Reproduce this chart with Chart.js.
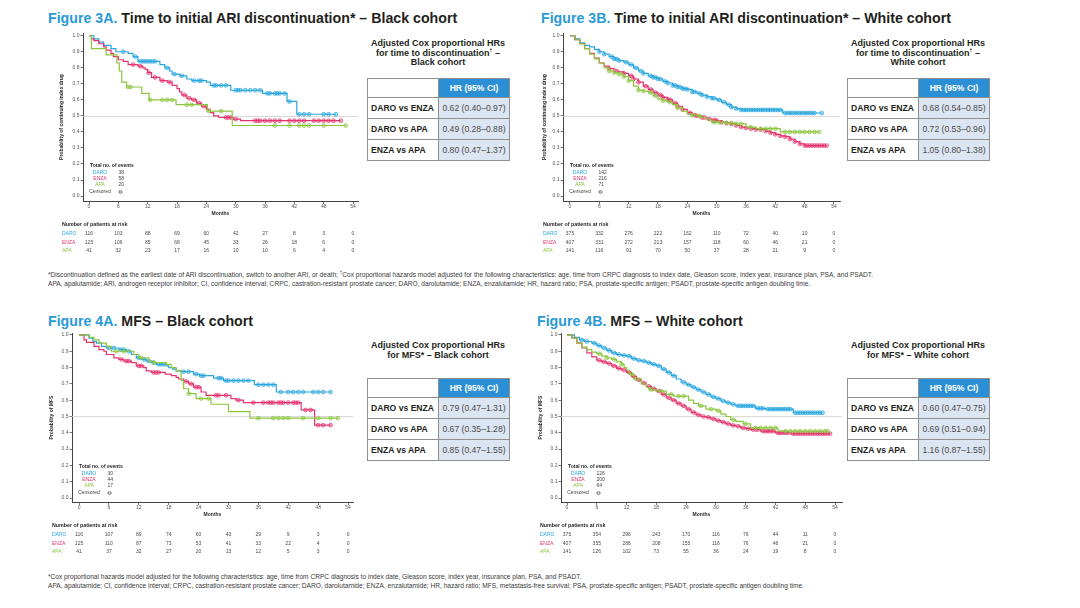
<!DOCTYPE html>
<html><head><meta charset="utf-8">
<script src="https://cdn.jsdelivr.net/npm/chart.js@4.4.1/dist/chart.umd.min.js"></script>
<style>
html,body{margin:0;padding:0;background:#fff;}
body{width:1080px;height:608px;position:relative;overflow:hidden;font-family:"Liberation Sans",Arial,Helvetica,sans-serif;color:#231f20;}
.t{position:absolute;white-space:nowrap;}
.ftitle{font-size:14.2px;font-weight:bold;line-height:14.4px;}
.ftitle span{color:#2a9ad7;}
.htitle{font-size:9px;font-weight:bold;text-align:center;line-height:9.6px;width:200px;}
.foot{font-size:6.6px;color:#3a3a3a;line-height:9.3px;}
canvas{position:absolute;}
.cell{position:absolute;box-sizing:border-box;border:1px solid #8f8f8f;display:flex;align-items:center;font-size:8.6px;}
.lab{font-weight:bold;padding-left:3px;background:#fff;color:#231f20;}
.val{justify-content:center;background:#dce6f2;color:#4a4a4a;}
.hdr{justify-content:center;background:#2b8fd5;color:#fff;font-weight:bold;}
</style></head>
<body>
<script>
// ---------- shared axis values ----------
const xTickMonths = [0, 6, 12, 18, 24, 30, 36, 42, 48, 54];
const yTickValues = [0, 0.1, 0.2, 0.3, 0.4, 0.5, 0.6, 0.7, 0.8, 0.9, 1.0];
const armNames = ['DARO', 'ENZA', 'APA'];
const hrComparisons = ['DARO vs ENZA', 'DARO vs APA', 'ENZA vs APA'];

// ---------- Figure 3A: time to discontinuation, Black cohort ----------
const f3aDaro = [[0,1],[1,0.98],[2,0.96],[3,0.94],[4.5,0.92],[5.5,0.90],[8,0.89],[9,0.87],[10,0.84],[14.5,0.82],[15.5,0.80],[16.5,0.78],[17,0.76],[18.5,0.75],[20,0.73],[21,0.72],[24,0.71],[24.8,0.69],[29,0.66],[35.5,0.64],[40.5,0.59],[42.5,0.51],[50.5,0.51]];
const f3aEnza = [[0,1],[0.5,0.98],[1,0.97],[2,0.95],[3,0.93],[3.5,0.91],[4.5,0.89],[5,0.87],[6,0.85],[7,0.84],[8,0.82],[10,0.81],[11,0.80],[11.5,0.79],[12,0.77],[12.8,0.74],[14.5,0.72],[16,0.71],[17,0.69],[18,0.67],[18.5,0.65],[19,0.63],[20,0.61],[21,0.60],[22,0.58],[23,0.56],[24,0.54],[24.8,0.52],[25.5,0.50],[26.5,0.49],[29.5,0.48],[31,0.47],[51.5,0.47]];
const f3aApa = [[0,1],[0.5,0.92],[3.5,0.88],[5.7,0.83],[6.2,0.78],[6.7,0.71],[7.7,0.68],[10.8,0.64],[12.3,0.60],[17.8,0.57],[24.2,0.53],[29.3,0.44],[52.5,0.44]];
const f3aDaroCensor = [7,9.5,10.5,11,11.5,12,12.5,13,13.5,16,17.5,19,21.5,22.5,23,25.5,26,27,28,30,30.5,31,32,33,34,35,36.5,37,38,38.5,39,40,41,43,44,45,48,49,50.5];
const f3aEnzaCensor = [9,10.5,12.2,13.5,15,16.5,19.5,20.5,21.5,22.5,23.5,28,28.5,29,30,34,34.5,35,36,37,38,39,41,42,43,44,46,47,48,49,50,51.5];
const f3aApaCensor = [8,8.5,12.5,15,16,17,20,21,24.5,27,38,41,43,44,45,48,52.5];
const f3aEvents = [38, 58, 20];
const f3aRiskDaro = [116,103,88,69,60,42,27,8,3,0];
const f3aRiskEnza = [125,106,85,68,45,33,26,18,6,0];
const f3aRiskApa = [41,32,23,17,16,10,10,6,4,0];
const f3aHR = ['0.62 (0.40–0.97)', '0.49 (0.28–0.88)', '0.80 (0.47–1.37)'];

// ---------- Figure 3B: time to discontinuation, White cohort ----------
const f3bDaro = [[0,1],[1,0.98],[2,0.955],[3,0.94],[4,0.93],[5,0.915],[6,0.90],[7,0.885],[8,0.87],[9,0.855],[10,0.845],[11,0.835],[12,0.82],[13,0.80],[14,0.78],[15,0.765],[16,0.75],[17,0.74],[18,0.73],[19,0.715],[20,0.705],[21,0.69],[22,0.68],[23,0.67],[24,0.665],[25,0.65],[26,0.64],[27,0.63],[28,0.62],[29,0.61],[30,0.60],[31,0.585],[32,0.57],[33,0.555],[34,0.545],[35,0.537],[43.5,0.518],[51.5,0.518]];
const f3bEnza = [[0,1],[1,0.975],[2,0.95],[3,0.92],[4,0.89],[5,0.86],[6,0.83],[7,0.81],[8,0.795],[9,0.78],[10,0.775],[11,0.765],[12,0.75],[13,0.73],[14,0.71],[15,0.685],[16,0.665],[17,0.645],[18,0.63],[19,0.615],[20,0.60],[21,0.58],[22,0.56],[23,0.54],[24,0.52],[25,0.505],[26,0.50],[27,0.49],[28,0.48],[29,0.475],[30,0.47],[31,0.46],[32,0.455],[33,0.45],[34,0.44],[35,0.43],[36,0.425],[37,0.42],[38,0.415],[40,0.405],[41,0.395],[42,0.385],[43,0.375],[44,0.37],[45,0.355],[46,0.34],[47,0.325],[48,0.315],[52.5,0.315]];
const f3bApa = [[0,1],[1,0.975],[2,0.95],[3,0.92],[4,0.885],[5,0.855],[6,0.83],[7,0.80],[8,0.78],[9,0.77],[10,0.76],[11,0.745],[12,0.72],[13,0.685],[14,0.66],[15,0.655],[16,0.645],[17,0.625],[18,0.605],[19,0.595],[20,0.585],[21,0.57],[22,0.55],[23,0.53],[24,0.51],[25,0.505],[26,0.50],[27,0.49],[28,0.475],[29,0.46],[32,0.455],[34,0.45],[36,0.43],[38,0.42],[43,0.40],[51,0.40]];
const f3bDaroCensor = [6,7,8.5,9,9.5,10,11.5,12.5,13.5,14.5,15,16.5,17,17.5,18,18.5,19.5,20,21,21.5,22,22.5,23,23.5,24,25,25.5,26.5,27,28,29,29.5,30.5,31.5,32.5,33,34,35,35.5,36,36.5,37,37.5,38,38.5,39,39.5,40,40.5,41,41.5,42,42.5,43,44,44.5,45,45.5,46,46.5,47,47.5,48,48.5,49,49.5,50,51.5];
const f3bEnzaCensor = [8,9.5,11,12.5,13,14,15.5,16.5,17.5,18.5,19,20,20.5,21.5,22,23,24.5,25.5,26,27,27.5,28.5,29.5,30,31,32,33,34,35,36,37,38,39,40,41,42,43,44,45,46,47,48,48.5,49,49.5,50,50.5,51,51.5,52,52.5];
const f3bApaCensor = [8,9,10,11,12,14,15,16.5,17.5,19,20.5,22,25,26.5,29.5,30.5,32,33,34,35,37,39,40,41,42,44,45,46,47,48,49,50,51];
const f3bEvents = [142, 216, 71];
const f3bRiskDaro = [375,332,276,222,162,110,72,40,10,0];
const f3bRiskEnza = [407,331,272,213,157,118,60,46,21,0];
const f3bRiskApa = [141,116,91,70,50,37,28,21,9,0];
const f3bHR = ['0.68 (0.54–0.85)', '0.72 (0.53–0.96)', '1.05 (0.80–1.38)'];

// ---------- Figure 4A: MFS, Black cohort ----------
const f4aDaro = [[0,1],[2,0.98],[2.8,0.96],[3.5,0.95],[4.5,0.93],[5.5,0.92],[8,0.91],[9.5,0.90],[10.5,0.88],[11.5,0.86],[12.5,0.85],[13.5,0.84],[14.5,0.83],[15.5,0.82],[17.5,0.81],[18,0.80],[18.8,0.79],[19.5,0.78],[20.5,0.775],[23,0.76],[24.2,0.75],[27,0.735],[29,0.72],[35.2,0.695],[39.6,0.65],[50.5,0.65]];
const f4aEnza = [[0,1],[1,0.97],[1.5,0.955],[3,0.93],[4,0.91],[5,0.90],[5.5,0.88],[7,0.86],[8,0.85],[9,0.84],[10.5,0.83],[11.5,0.81],[13,0.80],[13.5,0.78],[14.5,0.77],[17.3,0.76],[18.5,0.75],[19.5,0.74],[20,0.73],[21,0.715],[22,0.70],[23,0.68],[24.5,0.65],[25.5,0.63],[30.5,0.61],[31.5,0.60],[33,0.585],[44.6,0.54],[47.3,0.447],[50.5,0.447]];
const f4aApa = [[0,1],[2,0.985],[3,0.97],[4,0.95],[5.5,0.93],[6.5,0.90],[11,0.88],[12,0.86],[14,0.84],[15,0.83],[17.5,0.82],[18.5,0.80],[19.5,0.78],[20.5,0.72],[21,0.67],[22,0.64],[23.5,0.61],[26.5,0.575],[30,0.53],[34.3,0.49],[52,0.49]];
const f4aDaroCensor = [6,7,8.5,9,10,12,13,14,15,16,16.5,17,21,22,23.5,24.5,25,28,28.5,29.5,30,31,32,33,34,36,37,38,39,40.5,42,43,44,45,47,48,49,50.5];
const f4aEnzaCensor = [8.5,9.5,10,12,12.5,15,15.5,16,21.5,22.5,23.5,24,27.5,28,29.5,32,35,37,38,38.5,39,40,40.5,41,42,43,43.5,44,45.5,46.5,48,49,50.5];
const f4aApaCensor = [7.5,9,12.5,15,22,24.5,26,36,39,40,41,42,45,48,50.5,52];
const f4aEvents = [30, 44, 17];
const f4aRiskDaro = [116,107,89,74,60,43,29,9,3,0];
const f4aRiskEnza = [125,110,87,73,53,41,33,22,4,0];
const f4aRiskApa = [41,37,32,27,20,13,12,5,3,0];
const f4aHR = ['0.79 (0.47–1.31)', '0.67 (0.35–1.28)', '0.85 (0.47–1.55)'];

// ---------- Figure 4B: MFS, White cohort ----------
const f4bDaro = [[0,1],[1.5,0.985],[2.5,0.97],[3.5,0.96],[5,0.95],[6,0.935],[7,0.92],[8,0.905],[9,0.89],[10,0.88],[11,0.875],[12,0.87],[13,0.855],[14,0.845],[15,0.84],[16,0.83],[17,0.82],[18,0.81],[19,0.79],[20,0.77],[21,0.75],[22,0.73],[23,0.71],[24,0.695],[25,0.68],[26,0.665],[27,0.65],[28,0.635],[29,0.62],[30,0.61],[31,0.595],[32,0.585],[33,0.575],[34,0.565],[38,0.55],[40,0.545],[45.6,0.523],[51.5,0.523]];
const f4bEnza = [[0,1],[1,0.98],[2,0.95],[3,0.92],[4,0.89],[5,0.865],[6,0.845],[7,0.835],[8,0.825],[9,0.81],[10,0.795],[11,0.785],[12,0.77],[13,0.745],[14,0.725],[15,0.705],[16,0.685],[17,0.67],[18,0.655],[19,0.635],[20,0.615],[21,0.60],[22,0.58],[23,0.565],[24,0.545],[25,0.525],[26,0.51],[27,0.50],[28,0.495],[29,0.485],[30,0.475],[31,0.465],[32,0.455],[33,0.445],[34,0.44],[35,0.43],[36,0.425],[37,0.42],[39,0.41],[42,0.40],[45,0.395],[53,0.395]];
const f4bApa = [[0,1],[1,0.98],[2,0.95],[3,0.925],[4,0.91],[5,0.895],[6,0.885],[7,0.87],[8,0.86],[9,0.85],[10,0.835],[11,0.82],[11.5,0.80],[12,0.785],[12.5,0.76],[13.5,0.73],[15,0.70],[16,0.68],[16.5,0.665],[18,0.655],[20,0.635],[21.5,0.625],[24.5,0.60],[25.5,0.58],[26.5,0.565],[28,0.545],[30,0.535],[31,0.515],[32,0.50],[33,0.48],[34,0.47],[35.5,0.455],[37,0.43],[42.5,0.41],[52.5,0.41]];
const f4bDaroCensor = [3,4,5.5,6.5,7.5,8.5,9.5,10.5,11.5,12.5,13.5,14.5,15.5,16.5,17.5,18.5,19.5,20.5,21.5,23.5,24.5,25.5,26.5,27.5,28.5,29.5,30.5,31.5,32.5,33.5,34.5,35,35.5,36,36.5,37,37.5,38.5,39,39.5,40.5,41,41.5,42,42.5,43,43.5,44,44.5,45,46,46.5,47,47.5,48,48.5,49,49.5,50,50.5,51,51.5];
const f4bEnzaCensor = [6.5,7.5,8.5,9.5,10.5,11.5,12.5,13.5,14.5,15.5,16.5,17.5,18.5,19.5,20.5,21.5,22.5,23.5,24.5,25.5,26.5,27.5,28.5,29.5,30.5,31.5,32.5,33.5,34.5,35.5,36.5,37.5,38,38.5,39.5,40,40.5,41,41.5,42.5,43,43.5,44,44.5,45.5,46,46.5,47,47.5,48,48.5,49,49.5,50,50.5,51,51.5,52,52.5,53];
const f4bApaCensor = [6.5,8,9.5,11,13,14,17,19,21,22.5,23.5,27,29,30.5,33.5,36,38,39,40,41,42,44,45,46,47,48,49,50,51,52,52.5];
const f4bEvents = [126, 200, 64];
const f4bRiskDaro = [375,354,296,243,170,116,76,44,11,0];
const f4bRiskEnza = [407,355,286,208,155,116,76,46,21,0];
const f4bRiskApa = [141,126,102,73,55,36,24,19,8,0];
const f4bHR = ['0.60 (0.47–0.75)', '0.69 (0.51–0.94)', '1.16 (0.87–1.55)'];

// ---------- styles ----------
const armColors = ['#29a6de', '#e5336d', '#8cc63f'];
const armFills = ['rgba(41,166,222,0.35)', 'rgba(229,51,109,0.35)', 'rgba(140,198,63,0.35)'];
const FONT = '"Liberation Sans", Arial, sans-serif';

function survAt(steps, t) {
  let s = steps[0][1];
  for (const [tt, ss] of steps) { if (tt <= t) s = ss; else break; }
  return s;
}

function addText(cls, html, left, top, extra) {
  const d = document.createElement('div');
  d.className = 't ' + cls;
  d.innerHTML = html;
  d.style.left = left + 'px'; d.style.top = top + 'px';
  if (extra) Object.assign(d.style, extra);
  document.body.appendChild(d);
  return d;
}

function hrTable(left, top, values) {
  const cw = [71, 71], rh = [19, 21, 21, 21];
  let y = top;
  for (let r = 0; r < 4; r++) {
    let x = left;
    for (let c = 0; c < 2; c++) {
      const d = document.createElement('div');
      d.className = 'cell ' + (r === 0 ? (c === 0 ? 'lab' : 'hdr') : (c === 0 ? 'lab' : 'val'));
      d.style.left = x + 'px'; d.style.top = y + 'px';
      d.style.width = (cw[c] + 1) + 'px'; d.style.height = (rh[r] + 1) + 'px';
      if (r === 0 && c === 1) d.textContent = 'HR (95% CI)';
      else if (r > 0 && c === 0) d.textContent = hrComparisons[r - 1];
      else if (r > 0) d.textContent = values[r - 1];
      document.body.appendChild(d);
      x += cw[c];
    }
    y += rh[r];
  }
}

function kmChart(g, curves, censors, events, risks) {
  const cv = document.createElement('canvas');
  cv.width = g.w; cv.height = g.h;
  cv.style.left = g.left + 'px'; cv.style.top = g.top + 'px';
  document.body.appendChild(cv);
  const xHeight = 18;
  const scaleLeft = g.yTitleX - 3;
  const pad = {
    left: scaleLeft - g.left,
    right: g.left + g.w - g.area.r,
    top: g.area.t - g.top,
    bottom: g.top + g.h - g.area.b - xHeight
  };
  const yWidth = g.area.l - scaleLeft;
  const datasets = [];
  curves.forEach((steps, i) => {
    datasets.push({
      data: steps.map(([t, s]) => ({x: t, y: s})),
      stepped: true, borderColor: armColors[i], borderWidth: 1.2,
      pointRadius: 0, fill: false, order: 3 - i
    });
  });
  censors.forEach((times, i) => {
    datasets.push({
      data: times.map(t => ({x: t, y: survAt(curves[i], t)})),
      showLine: false, pointRadius: 1.9, pointBorderWidth: 0.7,
      pointBorderColor: armColors[i], pointBackgroundColor: armFills[i],
      order: 3 - i
    });
  });
  const extras = {
    id: 'km',
    beforeDatasetsDraw(chart) {
      const {ctx, chartArea: a, scales: {y}} = chart;
      const yy = Math.round(y.getPixelForValue(0.5)) + 0.5;
      ctx.save(); ctx.strokeStyle = '#cfcfcf'; ctx.lineWidth = 0.8;
      ctx.beginPath(); ctx.moveTo(a.left, yy); ctx.lineTo(a.right, yy); ctx.stroke(); ctx.restore();
    },
    afterDraw(chart) {
      const {ctx, chartArea: a, scales: {x}} = chart;
      ctx.save();
      ctx.textBaseline = 'middle';
      // events legend
      ctx.font = 'bold 5px ' + FONT; ctx.fillStyle = '#231f20'; ctx.textAlign = 'left';
      ctx.fillText('Total no. of events', a.left + 7, a.bottom - 35);
      ctx.font = '5px ' + FONT;
      armNames.forEach((n, i) => {
        const yy = a.bottom - 28.5 + i * 6.3;
        ctx.textAlign = 'center'; ctx.fillStyle = armColors[i];
        ctx.fillText(n, a.left + 17, yy);
        ctx.textAlign = 'left'; ctx.fillStyle = '#444';
        ctx.fillText(String(events[i]), a.left + 35.5, yy);
      });
      ctx.textAlign = 'center'; ctx.fillStyle = '#444';
      ctx.fillText('Censored', a.left + 17, a.bottom - 9);
      ctx.strokeStyle = '#555'; ctx.lineWidth = 0.6;
      ctx.beginPath(); ctx.arc(a.left + 37.5, a.bottom - 9, 1.6, 0, Math.PI * 2); ctx.stroke();
      ctx.beginPath(); ctx.moveTo(a.left + 35.5, a.bottom - 9); ctx.lineTo(a.left + 39.5, a.bottom - 9); ctx.stroke();
      // risk table
      const lx = g.riskLabelX - g.left;
      ctx.font = 'bold 5.3px ' + FONT; ctx.fillStyle = '#231f20'; ctx.textAlign = 'left';
      ctx.fillText('Number of patients at risk', lx, a.bottom + 23.5);
      ctx.font = '5px ' + FONT;
      armNames.forEach((n, i) => {
        const yy = a.bottom + 32.5 + i * 8.8;
        ctx.textAlign = 'left'; ctx.fillStyle = armColors[i];
        ctx.fillText(n, lx, yy);
        ctx.textAlign = 'center'; ctx.fillStyle = '#4a4a4a';
        risks[i].forEach((v, j) => ctx.fillText(String(v), x.getPixelForValue(xTickMonths[j]), yy));
      });
      ctx.restore();
    }
  };
  new Chart(cv, {
    type: 'line',
    data: {datasets},
    options: {
      responsive: false, animation: false, events: [],
      layout: {padding: pad},
      plugins: {legend: {display: false}, tooltip: {enabled: false}},
      scales: {
        x: {
          type: 'linear', min: g.xr[0], max: g.xr[1],
          afterBuildTicks: s => { s.ticks = xTickMonths.map(v => ({value: v})); },
          afterFit: s => { s.height = xHeight; },
          grid: {drawOnChartArea: false, drawTicks: true, tickLength: 3, color: '#555', lineWidth: 0.8},
          border: {display: true, color: '#444', width: 1},
          ticks: {font: {size: 5, family: FONT}, color: '#555', padding: 0, maxRotation: 0, autoSkip: false},
          title: {display: true, text: 'Months', font: {size: 5, weight: 'bold', family: FONT}, color: '#231f20', padding: {top: 0, bottom: 2.5}}
        },
        y: {
          type: 'linear', min: g.yr[0], max: g.yr[1],
          afterBuildTicks: s => { s.ticks = yTickValues.map(v => ({value: v})); },
          afterFit: s => { s.width = yWidth; },
          grid: {drawOnChartArea: false, drawTicks: true, tickLength: 2.5, color: '#555', lineWidth: 0.8},
          border: {display: true, color: '#444', width: 1},
          ticks: {font: {size: 5, family: FONT}, color: '#555', padding: 1, autoSkip: false, callback: v => v.toFixed(1)},
          title: {display: true, text: g.yTitle, font: {size: 5, weight: 'bold', family: FONT}, color: '#231f20', padding: {top: 0, bottom: 0}}
        }
      }
    },
    plugins: [extras]
  });
}

// ---------- page layout ----------
addText('ftitle', '<span>Figure 3A.</span> Time to initial ARI discontinuation* – Black cohort', 48, 11);
addText('ftitle', '<span>Figure 3B.</span> Time to initial ARI discontinuation* – White cohort', 541, 11);
addText('ftitle', '<span>Figure 4A.</span> MFS – Black cohort', 48, 314);
addText('ftitle', '<span>Figure 4B.</span> MFS – White cohort', 537, 314);

addText('htitle', 'Adjusted Cox proportional HRs<br>for time to discontinuation<sup style="font-size:5px;line-height:0">†</sup> –<br>Black cohort', 338, 39);
addText('htitle', 'Adjusted Cox proportional HRs<br>for time to discontinuation<sup style="font-size:5px;line-height:0">†</sup> –<br>White cohort', 818, 39);
addText('htitle', 'Adjusted Cox proportional HRs<br>for MFS* – Black cohort', 338, 341);
addText('htitle', 'Adjusted Cox proportional HRs<br>for MFS* – White cohort', 818, 341);

hrTable(367, 78, f3aHR);
hrTable(847, 78, f3bHR);
hrTable(367, 378, f4aHR);
hrTable(847, 378, f4bHR);

addText('foot', '*Discontinuation defined as the earliest date of ARI discontinuation, switch to another ARI, or death; <sup style="font-size:4.5px;line-height:0">†</sup>Cox proportional hazards model adjusted for the following characteristics: age, time from CRPC diagnosis to index date, Gleason score, index year, insurance plan, PSA, and PSADT.<br>APA, apalutamide; ARI, androgen receptor inhibitor; CI, confidence interval; CRPC, castration-resistant prostate cancer; DARO, darolutamide; ENZA, enzalutamide; HR, hazard ratio; PSA, prostate-specific antigen; PSADT, prostate-specific antigen doubling time.', 48, 270);
addText('foot', '*Cox proportional hazards model adjusted for the following characteristics: age, time from CRPC diagnosis to index date, Gleason score, index year, insurance plan, PSA, and PSADT.<br>APA, apalutamide; CI, confidence interval; CRPC, castration-resistant prostate cancer; DARO, darolutamide; ENZA, enzalutamide; HR, hazard ratio; MFS, metastasis-free survival; PSA, prostate-specific antigen; PSADT, prostate-specific antigen doubling time.', 48, 572);

kmChart({left: 40, top: 28, w: 330, h: 245, area: {l: 83, r: 358, t: 33, b: 201}, xr: [-1.23, 55.02], yr: [-0.031, 1.017],
  yTitle: 'Probability of continuing index drug', yTitleX: 62, riskLabelX: 62},
  [f3aDaro, f3aEnza, f3aApa], [f3aDaroCensor, f3aEnzaCensor, f3aApaCensor], f3aEvents, [f3aRiskDaro, f3aRiskEnza, f3aRiskApa]);
kmChart({left: 536, top: 28, w: 312, h: 245, area: {l: 563, r: 840, t: 33, b: 201}, xr: [-1.43, 55.23], yr: [-0.031, 1.017],
  yTitle: 'Probability of continuing index drug', yTitleX: 545, riskLabelX: 543},
  [f3bDaro, f3bEnza, f3bApa], [f3bDaroCensor, f3bEnzaCensor, f3bApaCensor], f3bEvents, [f3bRiskDaro, f3bRiskEnza, f3bRiskApa]);
kmChart({left: 40, top: 328, w: 320, h: 240, area: {l: 72, r: 353, t: 333, b: 502}, xr: [-1.41, 55.0], yr: [-0.0245, 1.012],
  yTitle: 'Probability of MFS', yTitleX: 52, riskLabelX: 52},
  [f4aDaro, f4aEnza, f4aApa], [f4aDaroCensor, f4aEnzaCensor, f4aApaCensor], f4aEvents, [f4aRiskDaro, f4aRiskEnza, f4aRiskApa]);
kmChart({left: 532, top: 328, w: 316, h: 240, area: {l: 561, r: 842, t: 333, b: 502}, xr: [-1.21, 55.41], yr: [-0.0245, 1.012],
  yTitle: 'Probability of MFS', yTitleX: 541, riskLabelX: 540},
  [f4bDaro, f4bEnza, f4bApa], [f4bDaroCensor, f4bEnzaCensor, f4bApaCensor], f4bEvents, [f4bRiskDaro, f4bRiskEnza, f4bRiskApa]);
</script>
</body></html>
